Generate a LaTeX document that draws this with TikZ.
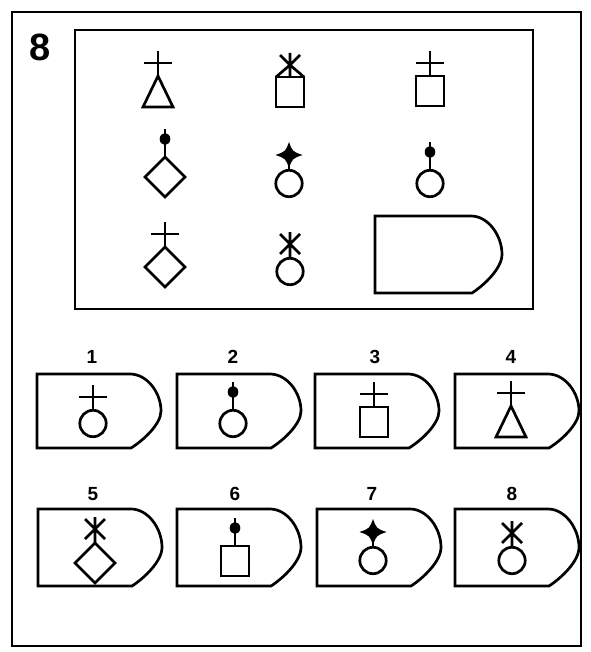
\documentclass[tikz,border=0pt]{standalone}
\usepackage{fontspec}
\setsansfont{Liberation Sans}
\tikzset{
  ln/.style={line width=2.7pt, line join=miter, line cap=butt},
  lbl/.style={font=\sffamily\bfseries\fontsize{19}{19}\selectfont, inner sep=0pt},
  pics/circ/.style={code={\draw[ln] (0,13.5) circle[radius=13.2];}},
  pics/sq/.style={code={\draw[ln] (-14,0) rectangle (14,30);}},
  pics/tri/.style={code={\draw[ln] (0,0) -- (15,31) -- (-15,31) -- cycle;}},
  pics/dia/.style={code={\draw[ln] (0,0) -- (20,20) -- (0,40) -- (-20,20) -- cycle;}},
  pics/tcross/.style={code={\draw[ln] (0,0) -- (0,-25) (-14,-13) -- (14,-13);}},
  pics/tdot/.style={code={\draw[ln] (0,0) -- (0,-28); \fill (0,-18) ellipse[x radius=5.3, y radius=6];}},
  pics/tstar/.style={code={\draw[ln] (0,0) -- (0,-6);
     \fill[shift={(0,-15)}] (0,-13) .. controls (3.5,-3.5) .. (13.5,0) .. controls (3.5,3.5) .. (0,13) .. controls (-3.5,3.5) .. (-13.5,0) .. controls (-3.5,-3.5) .. cycle;}},
  pics/tast/.style={code={\draw[ln] (0,0) -- (0,-26) (-10,-24) -- (10,-4) (10,-24) -- (-10,-4);}},
  pics/troof/.style={code={\draw[ln] (0,0) -- (0,-24) (-10,-22) -- (0,-12) -- (14,0) (10,-22) -- (0,-12) -- (-14,0);}},
}
\newcommand\myshield[4]{%
  \begin{scope}[shift={(#1,#2)}]
  \draw[ln] (0,0) -- (#3-31,0) .. controls (#3-14,0) and (#3,#4*0.25) .. (#3,#4*0.5) .. controls (#3,#4*0.68) and (#3-18,#4*0.9) .. (#3-30,#4) -- (0,#4) -- cycle;
  \end{scope}}
\begin{document}
\begin{tikzpicture}[x=1pt,y=-1pt]
\useasboundingbox (0,0) rectangle (590,652);
\fill[white] (0,0) rectangle (590,652);
% frames
\draw[line width=2.2pt] (12,12) rectangle (581,646);
\node[font=\sffamily\bfseries\fontsize{38}{38}\selectfont, inner sep=0pt] (n8) at (40,47) {8};
\draw[line width=2.7pt] (75,30) rectangle (533,309);
% grid
\pic at (158,76) {tri}; \pic at (158,76) {tcross};
\pic at (290,77) {sq}; \pic at (290,77) {troof};
\pic at (430,76) {sq}; \pic at (430,76) {tcross};
\pic at (165,157) {dia}; \pic at (165,157) {tdot};
\pic at (289,170) {circ}; \pic at (289,170) {tstar};
\pic at (430,170) {circ}; \pic at (430,170) {tdot};
\pic at (165,247) {dia}; \pic at (165,247) {tcross};
\pic at (290,258) {circ}; \pic at (290,258) {tast};
\myshield{375}{216}{127}{77}
% answer labels
\node[lbl] (l1) at (92,357) {1};
\node[lbl] (l2) at (233,357) {2};
\node[lbl] (l3) at (375,357) {3};
\node[lbl] (l4) at (511,357) {4};
\node[lbl] (l5) at (93,494) {5};
\node[lbl] (l6) at (235,494) {6};
\node[lbl] (l7) at (372,494) {7};
\node[lbl] (l8) at (512,494) {8};
% answer shields
\myshield{37}{374}{124}{74}
\myshield{177}{374}{124}{74}
\myshield{315}{374}{124}{74}
\myshield{455}{374}{124}{74}
\myshield{38}{509}{124}{77}
\myshield{177}{509}{124}{77}
\myshield{317}{509}{124}{77}
\myshield{455}{509}{124}{77}
% answer symbols
\pic at (93,410) {circ}; \pic at (93,410) {tcross};
\pic at (233,410) {circ}; \pic at (233,410) {tdot};
\pic at (374,407) {sq}; \pic at (374,407) {tcross};
\pic at (511,406) {tri}; \pic at (511,406) {tcross};
\pic at (95,543) {dia}; \pic at (95,543) {tast};
\pic at (235,546) {sq}; \pic at (235,546) {tdot};
\pic at (373,547) {circ}; \pic at (373,547) {tstar};
\pic at (512,547) {circ}; \pic at (512,547) {tast};
\end{tikzpicture}
\end{document}
